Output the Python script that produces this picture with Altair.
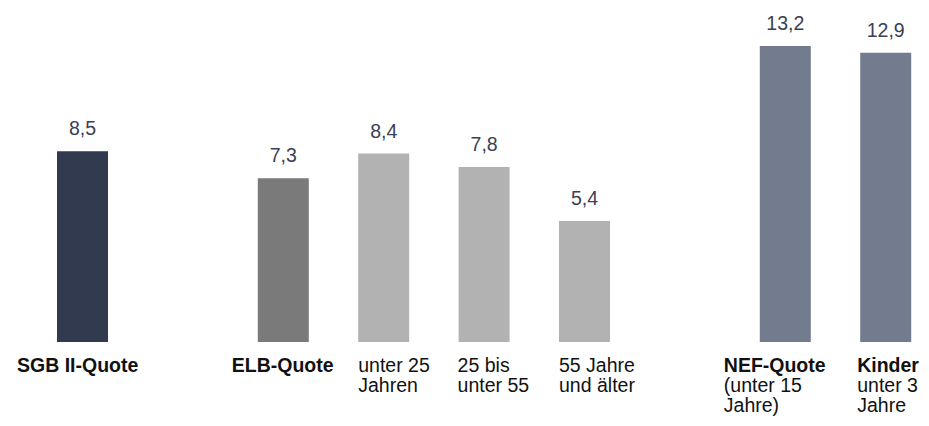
import altair as alt
import pandas as pd

# ---- data ----
slots = [0, 2, 3, 4, 5, 7, 8]          # ordinal slot of each bar (gaps at 1 and 6)
values = [8.5, 7.3, 8.4, 7.8, 5.4, 13.2, 12.9]
groups = ["SGB II", "ELB", "ELB Alter", "ELB Alter", "ELB Alter", "NEF", "NEF"]
label_bold = ["SGB II-Quote", "ELB-Quote", "", "", "", "NEF-Quote", "Kinder"]
label_rest = ["", "", "unter 25\nJahren", "25 bis\nunter 55", "55 Jahre\nund älter",
              "(unter 15\nJahre)", "unter 3\nJahre"]

# ---- layout / style ----
STEP_PX = 100.4
BAR_HALF = 25.5 / STEP_PX
PLOT_W, PLOT_H = 900, 314
X0 = -(82.5 - 16) / STEP_PX
X1 = X0 + PLOT_W / STEP_PX
LABEL_SHIFT_PX = [-40, -26, 0, -1, 0, -36, -3]
FONT = "Liberation Sans"
color_domain = ["SGB II", "ELB", "ELB Alter", "NEF"]
color_range = ["#313a4f", "#7a7a7a", "#b2b2b2", "#737b8e"]

rest_text = [("\n" + r if b else r) for b, r in zip(label_bold, label_rest)]

df = pd.DataFrame({
    "slot": slots,
    "value": values,
    "group": groups,
    "bold": label_bold,
    "rest": rest_text,
    "shift": LABEL_SHIFT_PX,
})

xscale = alt.Scale(domain=[X0, X1], nice=False, zero=False)
yscale = alt.Scale(domain=[0, 14], nice=False)

base = alt.Chart(df).transform_calculate(
    x0=f"datum.slot - {BAR_HALF}",
    x1=f"datum.slot + {BAR_HALF}",
    lx=f"datum.slot - {BAR_HALF} + datum.shift / {STEP_PX}",
    vlabel="replace(format(datum.value, '.1f'), '.', ',')",
)

bars = base.mark_bar().encode(
    x=alt.X("x0:Q", scale=xscale, axis=None),
    x2="x1:Q",
    y=alt.Y("value:Q", scale=yscale, axis=None),
    y2=alt.datum(0),
    color=alt.Color("group:N", scale=alt.Scale(domain=color_domain, range=color_range), legend=None),
)

values_txt = base.mark_text(
    align="center", baseline="alphabetic", dy=-16, fontSize=19.5, font=FONT, color="#3a4055"
).encode(
    x=alt.X("slot:Q", scale=xscale, axis=None),
    y=alt.Y("value:Q", scale=yscale, axis=None),
    text="vlabel:N",
)

bold_txt = base.mark_text(
    align="left", baseline="alphabetic", dy=30, fontSize=19.5, font=FONT,
    fontWeight="bold", color="#111111"
).encode(
    x=alt.X("lx:Q", scale=xscale, axis=None),
    y=alt.datum(0, scale=yscale),
    text="bold:N",
)

rest_txt = base.mark_text(
    align="left", baseline="alphabetic", dy=30, fontSize=19.5, font=FONT,
    lineBreak="\n", lineHeight=20, color="#111111"
).encode(
    x=alt.X("lx:Q", scale=xscale, axis=None),
    y=alt.datum(0, scale=yscale),
    text="rest:N",
)

chart = alt.layer(bars, values_txt, bold_txt, rest_txt).properties(
    width=PLOT_W,
    height=PLOT_H,
    autosize="none",
    padding={"left": 8, "top": 20, "right": 5, "bottom": 75},
).configure(font=FONT, background="white").configure_view(strokeWidth=0, stroke=None)

chart.save("out.html", embed_options={"renderer": "svg", "actions": False})
